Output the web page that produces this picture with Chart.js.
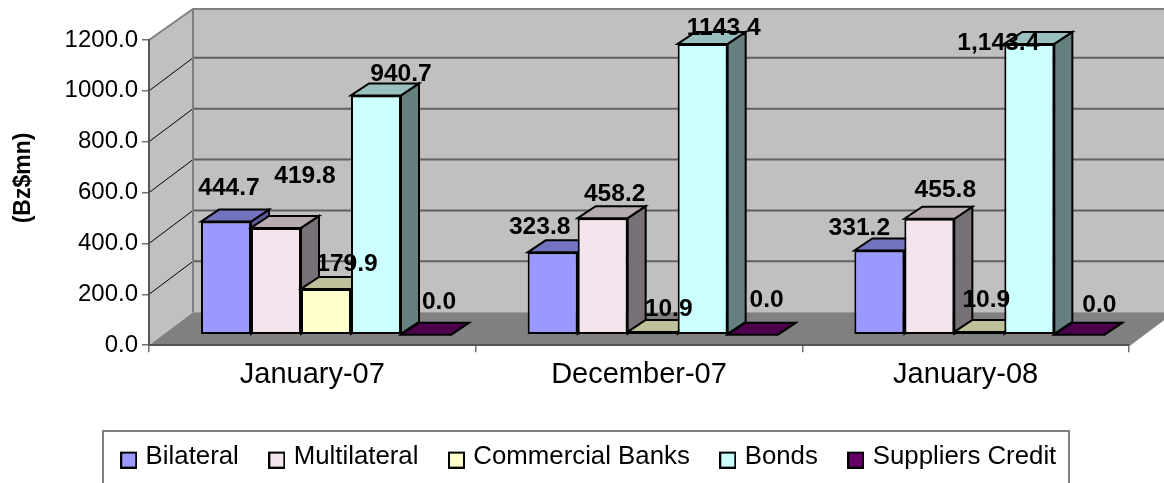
<!DOCTYPE html>
<html>
<head>
<meta charset="utf-8">
<style>
  html, body { margin: 0; padding: 0; background: #fff; }
  #wrap { position: relative; width: 1164px; height: 483px; overflow: hidden; }
</style>
<script src="https://cdn.jsdelivr.net/npm/chart.js@4"></script>
</head>
<body>
<div id="wrap"><canvas id="debt" width="1164" height="483"></canvas></div>
<script>
// External public debt stock by creditor type, Bz$ million
const categories = ['January-07', 'December-07', 'January-08'];
const bilateral = [444.7, 323.8, 331.2];
const multilateral = [419.8, 458.2, 455.8];
const commercialBanks = [179.9, 10.9, 10.9];
const bonds = [940.7, 1143.4, 1143.4];
const suppliersCredit = [0.0, 0.0, 0.0];
const seriesNames = ['Bilateral', 'Multilateral', 'Commercial Banks', 'Bonds', 'Suppliers Credit'];
const bondLabels = ['940.7', '1143.4', '1,143.4'];

// Where each value label sits relative to the top-centre of its bar
const labelShift = [
  [[3, -33], [-13, -25], [-20, -22]],
  [[29, -52], [12, -24], [16, -29]],
  [[21, -25], [16, -23], [7, -32]],
  [[25, -21], [21, -16], [-31, -1]],
  [[13, -32], [14, -34], [20, -29]]
];

// Depth of the extruded scene
const FLOOR = { dx: 44, dy: -33 };
const BAR = { dx: 18, dy: -12 };
const SET = { dx: 13.67, dy: -10.5 };

function dottedPattern(base, dot) {
  const c = document.createElement('canvas');
  c.width = 4; c.height = 4;
  const g = c.getContext('2d');
  g.fillStyle = base; g.fillRect(0, 0, 4, 4);
  g.fillStyle = dot;
  g.fillRect(0, 0, 1, 1);
  g.fillRect(2, 2, 1, 1);
  return g.createPattern(c, 'repeat');
}

const fronts = ['#9999FF', dottedPattern('#F4E2EC', '#FFF4F9'), '#FFFFCC', '#CCFFFF', '#660066'];
const tops = ['#7373BF', dottedPattern('#B6A9B0', '#C4B9BF'), '#BFBF99', '#99BFBF', '#4C004C'];
const sides = ['#5C5C99', dottedPattern('#756E74', '#857E84'), '#7F7F66', '#667F7F', '#3D003D'];

// Legend swatch: square sitting a little below the text's centre line
function swatch(fill) {
  const c = document.createElement('canvas');
  c.width = 17; c.height = 23;
  const g = c.getContext('2d');
  g.fillStyle = fill; g.fillRect(1, 7, 15, 15);
  g.strokeStyle = '#000'; g.lineWidth = 2; g.strokeRect(1, 7, 15, 15);
  return c;
}

function poly(ctx, pts, fill, stroke, width) {
  ctx.beginPath();
  pts.forEach((p, i) => i ? ctx.lineTo(p[0], p[1]) : ctx.moveTo(p[0], p[1]));
  ctx.closePath();
  if (fill) { ctx.fillStyle = fill; ctx.fill(); }
  if (stroke) { ctx.strokeStyle = stroke; ctx.lineWidth = width; ctx.stroke(); }
}

const scene = {
  id: 'scene',
  afterLayout(chart) {
    // Legend block sits right of the canvas centre and close under the axis
    chart.legend.left += 26;
    chart.legend.right += 26;
    chart.legend.top -= 3;
    chart.legend.bottom -= 3;
  },
  beforeDraw(chart) {
    const { ctx, chartArea: a, scales: { y } } = chart;
    const d = FLOOR;
    ctx.save();
    // Back wall, side wall and floor
    poly(ctx, [[a.left + d.dx, a.top + d.dy + 2], [a.right + d.dx, a.top + d.dy + 2], [a.right + d.dx, a.bottom + d.dy], [a.left + d.dx, a.bottom + d.dy]], '#C0C0C0');
    poly(ctx, [[a.left, a.top], [a.left + d.dx, a.top + d.dy + 2], [a.left + d.dx, a.bottom + d.dy], [a.left, a.bottom]], '#C0C0C0');
    poly(ctx, [[a.left, a.bottom], [a.left + d.dx, a.bottom + d.dy], [a.right + d.dx, a.bottom + d.dy], [a.right, a.bottom]], '#808080');
    // Gridlines across the walls
    y.ticks.forEach(t => {
      const py = y.getPixelForValue(t.value);
      if (t.value === 0 || t.value === 1200) return;
      ctx.strokeStyle = '#000'; ctx.lineWidth = 1;
      ctx.beginPath(); ctx.moveTo(a.left, py); ctx.lineTo(a.left + d.dx, py + d.dy); ctx.stroke();
      ctx.strokeStyle = '#606060'; ctx.lineWidth = 2;
      ctx.beginPath(); ctx.moveTo(a.left + d.dx, py + d.dy); ctx.lineTo(a.right + d.dx, py + d.dy); ctx.stroke();
    });
    // Wall outlines
    ctx.strokeStyle = '#808080'; ctx.lineWidth = 2;
    ctx.beginPath();
    ctx.moveTo(a.left, a.top);
    ctx.lineTo(a.left + d.dx, a.top + d.dy + 2);
    ctx.lineTo(a.right + d.dx, a.top + d.dy + 2);
    ctx.moveTo(a.left + d.dx, a.top + d.dy + 2);
    ctx.lineTo(a.left + d.dx, a.bottom + d.dy);
    ctx.moveTo(a.right, a.bottom);
    ctx.lineTo(a.right + d.dx, a.bottom + d.dy);
    ctx.stroke();
    ctx.restore();
  },
  // Bars are painted left to right so each one hides the side face of its neighbour
  beforeDatasetsDraw(chart) {
    const { ctx } = chart;
    chart.data.datasets.forEach((ds, i) => {
      const meta = chart.getDatasetMeta(i);
      ctx.save();
      ctx.translate(SET.dx, SET.dy);
      meta.data.forEach(bar => {
        const half = bar.width / 2;
        const l = bar.x - half, r = bar.x + half;
        const t = bar.y, b = bar.base;
        poly(ctx, [[r, t], [r + BAR.dx, t + BAR.dy], [r + BAR.dx, b + BAR.dy], [r, b]], sides[i], '#000', 2);
        poly(ctx, [[l, t], [l + BAR.dx, t + BAR.dy], [r + BAR.dx, t + BAR.dy], [r, t]], tops[i], '#000', 2);
      });
      meta.controller.draw();
      ctx.restore();
    });
    // Value labels stay on top of every bar
    ctx.save();
    ctx.font = 'bold 24.6px "Liberation Sans"';
    ctx.fillStyle = '#000';
    ctx.textAlign = 'center';
    ctx.textBaseline = 'middle';
    chart.data.datasets.forEach((ds, i) => {
      chart.getDatasetMeta(i).data.forEach((bar, j) => {
        const text = ds.valueText ? ds.valueText[j] : ds.data[j].toFixed(1);
        ctx.fillText(text, bar.x + SET.dx + labelShift[i][j][0], bar.y + SET.dy + labelShift[i][j][1]);
      });
    });
    ctx.restore();
    return false;
  },
  afterDraw(chart) {
    const { ctx } = chart;
    ctx.save();
    // Legend frame, running off the bottom of the canvas
    ctx.strokeStyle = '#808080'; ctx.lineWidth = 2;
    ctx.strokeRect(103, 431, 966, 70);
    // Rotated unit caption
    ctx.translate(24, 178);
    ctx.rotate(-Math.PI / 2);
    ctx.font = 'bold 23px "Liberation Sans"';
    ctx.fillStyle = '#000';
    ctx.textAlign = 'center';
    ctx.textBaseline = 'middle';
    ctx.fillText('(Bz$mn)', 0, 0);
    ctx.restore();
  }
};

const seriesValues = [bilateral, multilateral, commercialBanks, bonds, suppliersCredit];

new Chart(document.getElementById('debt'), {
  type: 'bar',
  plugins: [scene],
  data: {
    labels: categories,
    datasets: seriesNames.map((name, i) => ({
      label: name,
      data: seriesValues[i],
      valueText: i === 3 ? bondLabels : null,
      backgroundColor: fronts[i],
      borderColor: '#000',
      borderWidth: 2,
      borderSkipped: false,
      pointStyle: swatch(fronts[i])
    }))
  },
  options: {
    responsive: false,
    animation: false,
    layout: { padding: { left: 0, right: 35, top: 40, bottom: 0 } },
    datasets: { bar: { categoryPercentage: 250 / 326.67, barPercentage: 1 } },
    scales: {
      x: {
        afterFit(s) { s.height = 68; },
        border: { color: '#555555', width: 2 },
        grid: { drawOnChartArea: false, color: '#707070', tickLength: 7, lineWidth: 1.5, offset: true },
        ticks: { color: '#000', font: { family: '"Liberation Sans"', size: 29 }, padding: 5, maxRotation: 0 }
      },
      y: {
        min: 0, max: 1200,
        afterFit(s) { s.width = 149; },
        border: { color: '#555555', width: 2 },
        grid: { drawOnChartArea: false, color: '#707070', tickLength: 7, lineWidth: 1.5 },
        ticks: { stepSize: 200, color: '#000', font: { family: '"Liberation Sans"', size: 24 }, padding: 4,
          callback: v => v.toFixed(1) }
      }
    },
    plugins: {
      tooltip: { enabled: false },
      title: { display: false },
      legend: {
        position: 'bottom',
        labels: {
          usePointStyle: true, boxWidth: 8, boxHeight: 17, padding: 34,
          color: '#000',
          font: { family: '"Liberation Sans"', size: 25.8 },
          generateLabels(chart) {
            return chart.data.datasets.map((ds, i) => ({
              text: ds.label, fillStyle: ds.backgroundColor, strokeStyle: '#000', lineWidth: 2,
              pointStyle: ds.pointStyle, datasetIndex: i, hidden: false
            }));
          }
        }
      }
    }
  }
});
</script>
</body>
</html>
